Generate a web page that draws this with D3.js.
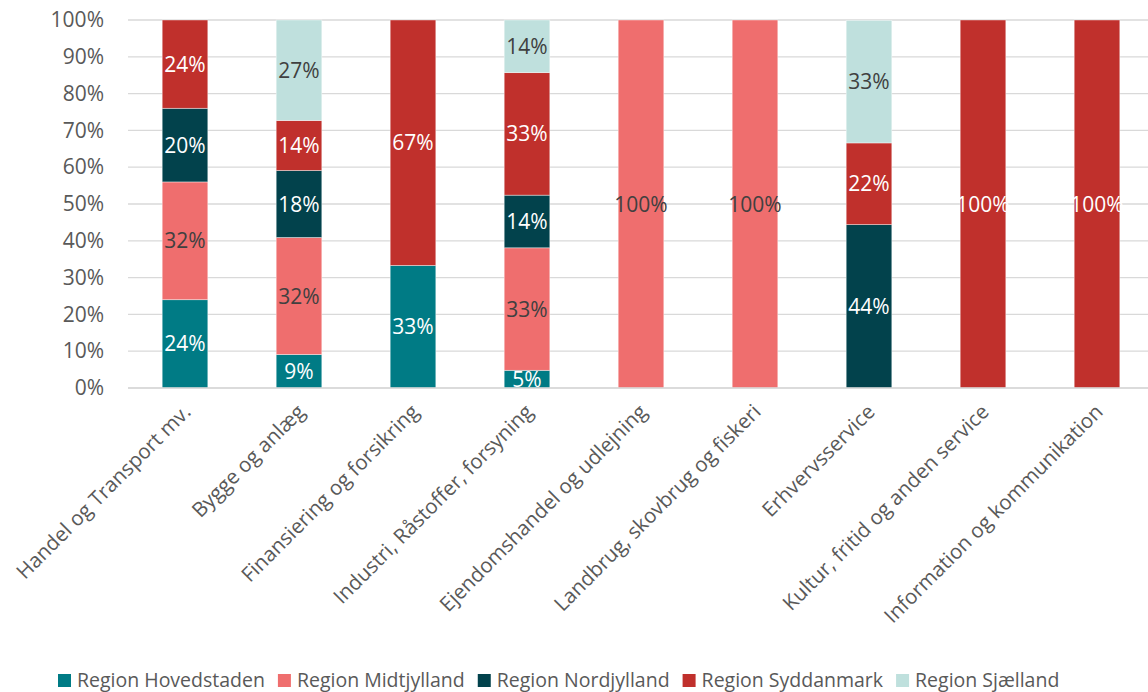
<!DOCTYPE html>
<html>
<head>
<meta charset="utf-8">
<script src="https://cdn.jsdelivr.net/npm/d3@7"></script>
<style>
    body { margin: 0; background: #fff; }
    svg { font-family: "Open Sans", "Noto Sans", sans-serif; }
</style>
</head>
<body>
<svg id="chart"></svg>
<script>
    // categories along the x axis
    let categories = [
        "Handel og Transport mv.",
        "Bygge og anlæg",
        "Finansiering og forsikring",
        "Industri, Råstoffer, forsyning",
        "Ejendomshandel og udlejning",
        "Landbrug, skovbrug og fiskeri",
        "Erhvervsservice",
        "Kultur, fritid og anden service",
        "Information og kommunikation"
    ];

    let seriesNames = ["Region Hovedstaden", "Region Midtjylland", "Region Nordjylland", "Region Syddanmark", "Region Sjælland"];

    // share in percent per category
    let hovedstaden = [24, 9.1, 33.3, 4.8, 0, 0, 0, 0, 0];
    let midtjylland = [32, 31.8, 0, 33.3, 100, 100, 0, 0, 0];
    let nordjylland = [20, 18.2, 0, 14.3, 0, 0, 44.4, 0, 0];
    let syddanmark = [24, 13.6, 66.7, 33.3, 0, 0, 22.2, 100, 100];
    let sjaelland = [0, 27.3, 0, 14.3, 0, 0, 33.3, 0, 0];

    let yTicks = [0, 10, 20, 30, 40, 50, 60, 70, 80, 90, 100];

    let colors = ["#007b85", "#ef6e6e", "#02424c", "#c0302c", "#bfe0dd"];
    let labelColors = ["#ffffff", "#404040", "#ffffff", "#ffffff", "#404040"];

    function getConfig() {
        let width = 1148;
        let height = 692;
        let margin = {top: 20, bottom: 304, left: 128, right: -6};
        let bodyWidth = width - margin.left - margin.right;
        let bodyHeight = height - margin.top - margin.bottom;
        let container = d3.select("#chart")
            .attr("width", width)
            .attr("height", height);
        return {width, height, margin, bodyWidth, bodyHeight, container};
    }

    function getScales(config) {
        let xScale = d3.scaleBand()
            .domain(categories)
            .range([0, config.bodyWidth])
            .paddingInner(0.6)
            .paddingOuter(0.3);
        let yScale = d3.scaleLinear()
            .domain([0, 100])
            .range([config.bodyHeight, 0]);
        return {xScale, yScale};
    }

    function buildTable() {
        let all = [hovedstaden, midtjylland, nordjylland, syddanmark, sjaelland];
        return categories.map((c, i) => {
            let row = {category: c};
            seriesNames.forEach((s, j) => row[s] = all[j][i]);
            return row;
        });
    }

    function drawGrid(scales, config) {
        let {margin, container, bodyWidth} = config;
        let {yScale} = scales;
        let grid = container.append("g")
            .attr("transform", `translate(${margin.left},${margin.top})`);
        grid.selectAll("line")
            .data(yTicks)
            .enter()
            .append("line")
            .attr("x1", 0)
            .attr("x2", bodyWidth)
            .attr("y1", d => yScale(d))
            .attr("y2", d => yScale(d))
            .attr("stroke", "#d9d9d9")
            .attr("stroke-width", 1.3);

        let axisY = d3.axisLeft(yScale)
            .tickValues(yTicks)
            .tickFormat(d => d + "%")
            .tickSize(0)
            .tickPadding(24);
        let gy = container.append("g")
            .attr("transform", `translate(${margin.left},${margin.top})`)
            .call(axisY);
        gy.select(".domain").remove();
        gy.selectAll("text")
            .attr("fill", "#595959")
            .style("font-size", "21px")
            .style("font-family", "'Open Sans', sans-serif");
    }

    function drawBars(table, scales, config) {
        let {margin, container, bodyWidth, bodyHeight} = config;
        let {xScale, yScale} = scales;
        let stack = d3.stack().keys(seriesNames);
        let layers = stack(table);

        container.append("clipPath")
            .attr("id", "plotClip")
            .append("rect")
            .attr("x", 0)
            .attr("y", 0)
            .attr("width", bodyWidth)
            .attr("height", bodyHeight);

        let body = container.append("g")
            .attr("transform", `translate(${margin.left},${margin.top})`);

        body.selectAll(".layer")
            .data(layers)
            .enter()
            .append("g")
            .attr("fill", (d, i) => colors[i])
            .selectAll("rect")
            .data(d => d.filter(p => p[1] - p[0] > 0))
            .enter()
            .append("rect")
            .attr("x", d => xScale(d.data.category))
            .attr("width", xScale.bandwidth())
            .attr("y", d => yScale(d[1]))
            .attr("height", d => yScale(d[0]) - yScale(d[1]))
            .attr("stroke", "#ffffff")
            .attr("stroke-opacity", 0.5)
            .attr("stroke-width", 0.8);

        // x axis line
        body.append("line")
            .attr("x1", 0)
            .attr("x2", bodyWidth)
            .attr("y1", bodyHeight)
            .attr("y2", bodyHeight)
            .attr("stroke", "#d9d9d9")
            .attr("stroke-width", 1.5);

        let labels = body.append("g").attr("clip-path", "url(#plotClip)");
        layers.forEach((layer, i) => {
            labels.selectAll(".lbl" + i)
                .data(layer.filter(p => p[1] - p[0] > 0))
                .enter()
                .append("text")
                .attr("x", d => xScale(d.data.category) + xScale.bandwidth() / 2)
                .attr("y", d => (yScale(d[0]) + yScale(d[1])) / 2)
                .attr("dy", "0.36em")
                .attr("text-anchor", "middle")
                .attr("fill", labelColors[i])
                .style("font-size", "21px")
                .text(d => Math.round(d[1] - d[0]) + "%");
        });
    }

    function drawXLabels(scales, config) {
        let {margin, container, bodyHeight} = config;
        let {xScale} = scales;
        let g = container.append("g")
            .attr("transform", `translate(${margin.left},${margin.top + bodyHeight})`);
        g.selectAll("text")
            .data(categories)
            .enter()
            .append("text")
            .attr("transform", d => `translate(${xScale(d) + xScale.bandwidth() / 2 + 2},${20}) rotate(-45)`)
            .attr("text-anchor", "end")
            .attr("dy", "0.35em")
            .attr("fill", "#595959")
            .style("font-size", "20.5px")
            .text(d => d);
    }

    function drawLegend(config) {
        let {container} = config;
        let legend = container.append("g").attr("transform", "translate(0,680)");
        let x = 58;
        seriesNames.forEach((name, i) => {
            let item = legend.append("g").attr("transform", `translate(${x},0)`);
            item.append("rect")
                .attr("x", 0)
                .attr("y", -6)
                .attr("width", 13)
                .attr("height", 13)
                .attr("fill", colors[i]);
            let t = item.append("text")
                .attr("x", 19)
                .attr("dy", "0.35em")
                .attr("fill", "#595959")
                .style("font-size", "19.5px")
                .text(name);
            x += 19 + t.node().getComputedTextLength() + 13;
        });
    }

    let config = getConfig();
    let scales = getScales(config);
    let table = buildTable();
    drawGrid(scales, config);
    drawBars(table, scales, config);
    drawXLabels(scales, config);
    drawLegend(config);
</script>
</body>
</html>
